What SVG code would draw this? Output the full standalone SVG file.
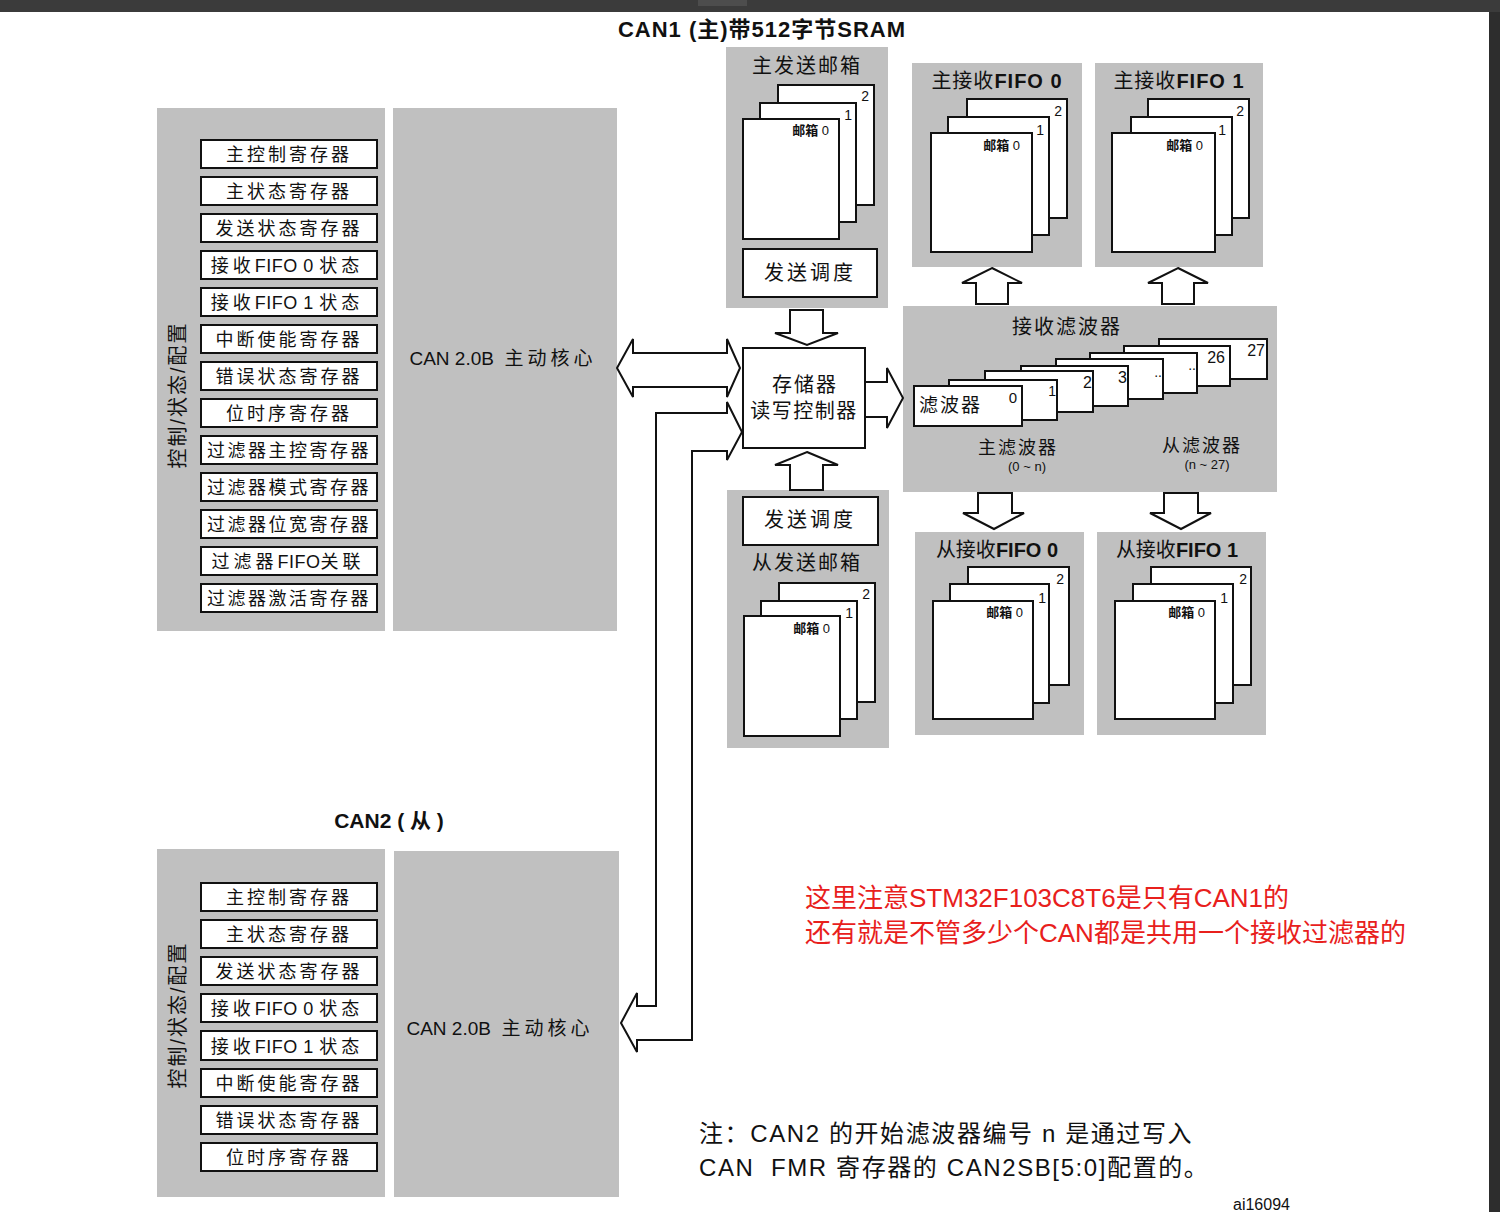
<svg xmlns="http://www.w3.org/2000/svg" width="1500" height="1212" viewBox="0 0 1500 1212">
<style>
  text { font-family: "Liberation Sans", "Noto Sans CJK SC", sans-serif; fill: #111; }
  .panel { fill: #c0c0c0; }
  .reg { fill: #fff; stroke: #111; stroke-width: 2; }
  .regt { font-size: 18px; letter-spacing: 3px; text-anchor: middle; }
  .sp { letter-spacing: 4px; }
  .lat { letter-spacing: 0.5px; }
  .page { fill: #fff; stroke: #111; stroke-width: 2; }
  .num { font-size: 14px; text-anchor: end; }
  .mb { font-size: 13px; font-weight: bold; text-anchor: end; }
  .ttl { font-size: 20px; letter-spacing: 1px; text-anchor: middle; }
  .box { fill: #fff; stroke: #111; stroke-width: 2; }
  .arr { fill: #fff; stroke: #111; stroke-width: 2; stroke-linejoin: miter; }
  .core { font-size: 19px; text-anchor: middle; }
  .vert { font-size: 20px; letter-spacing: 2px; text-anchor: middle; }
  .note { font-size: 24px; letter-spacing: 1.6px; }
</style>

<!-- window chrome -->
<rect x="0" y="0" width="1500" height="12" fill="#3b3b3b"/>
<rect x="698" y="0" width="49" height="6" fill="#4d4d4d"/>
<rect x="1489" y="12" width="11" height="1200" fill="#2d2d2d"/>

<text x="762" y="37" style="font-size:22px;font-weight:bold;letter-spacing:1px;text-anchor:middle">CAN1 (主)带512字节SRAM</text>
<text x="389" y="828" style="font-size:21px;font-weight:bold;text-anchor:middle" xml:space="preserve">CAN2 ( 从 )</text>

<!-- CAN1 registers -->
<g id="can1-regs">
  <rect class="panel" x="157" y="108" width="228" height="523"/>
  <text class="vert" transform="translate(185,395) rotate(-90)">控制/状态/配置</text>
  <rect class="reg" x="201" y="140" width="176" height="28"/><text class="regt" x="289" y="161">主控制寄存器</text>
  <rect class="reg" x="201" y="177" width="176" height="28"/><text class="regt" x="289" y="198">主状态寄存器</text>
  <rect class="reg" x="201" y="214" width="176" height="28"/><text class="regt" x="289" y="235">发送状态寄存器</text>
  <rect class="reg" x="201" y="251" width="176" height="28"/><text class="regt" x="287" y="272" xml:space="preserve"><tspan class="sp">接收</tspan><tspan class="lat">FIFO 0 </tspan><tspan class="sp">状态</tspan></text>
  <rect class="reg" x="201" y="288" width="176" height="28"/><text class="regt" x="287" y="309" xml:space="preserve"><tspan class="sp">接收</tspan><tspan class="lat">FIFO 1 </tspan><tspan class="sp">状态</tspan></text>
  <rect class="reg" x="201" y="325" width="176" height="28"/><text class="regt" x="289" y="346">中断使能寄存器</text>
  <rect class="reg" x="201" y="362" width="176" height="28"/><text class="regt" x="289" y="383">错误状态寄存器</text>
  <rect class="reg" x="201" y="399" width="176" height="28"/><text class="regt" x="289" y="420">位时序寄存器</text>
  <rect class="reg" x="201" y="436" width="176" height="28"/><text class="regt" x="289" y="457" style="letter-spacing:2.5px">过滤器主控寄存器</text>
  <rect class="reg" x="201" y="473" width="176" height="28"/><text class="regt" x="289" y="494" style="letter-spacing:2.5px">过滤器模式寄存器</text>
  <rect class="reg" x="201" y="510" width="176" height="28"/><text class="regt" x="289" y="531" style="letter-spacing:2.5px">过滤器位宽寄存器</text>
  <rect class="reg" x="201" y="547" width="176" height="28"/><text class="regt" x="288" y="568"><tspan class="sp">过滤器</tspan><tspan class="lat">FIFO</tspan><tspan class="sp">关联</tspan></text>
  <rect class="reg" x="201" y="584" width="176" height="28"/><text class="regt" x="289" y="605" style="letter-spacing:2.5px">过滤器激活寄存器</text>
</g>
<g id="can1-core">
  <rect class="panel" x="393" y="108" width="224" height="523"/>
  <text class="core" x="503" y="365" xml:space="preserve">CAN 2.0B  <tspan class="sp">主动核心</tspan></text>
</g>

<!-- CAN2 -->
<g id="can2-regs">
  <rect class="panel" x="157" y="849" width="228" height="348"/>
  <text class="vert" transform="translate(185,1015) rotate(-90)">控制/状态/配置</text>
  <rect class="reg" x="201" y="883" width="176" height="28"/><text class="regt" x="289" y="904">主控制寄存器</text>
  <rect class="reg" x="201" y="920" width="176" height="28"/><text class="regt" x="289" y="941">主状态寄存器</text>
  <rect class="reg" x="201" y="957" width="176" height="28"/><text class="regt" x="289" y="978">发送状态寄存器</text>
  <rect class="reg" x="201" y="994" width="176" height="28"/><text class="regt" x="287" y="1015" xml:space="preserve"><tspan class="sp">接收</tspan><tspan class="lat">FIFO 0 </tspan><tspan class="sp">状态</tspan></text>
  <rect class="reg" x="201" y="1031" width="176" height="29"/><text class="regt" x="287" y="1053" xml:space="preserve"><tspan class="sp">接收</tspan><tspan class="lat">FIFO 1 </tspan><tspan class="sp">状态</tspan></text>
  <rect class="reg" x="201" y="1069" width="176" height="28"/><text class="regt" x="289" y="1090">中断使能寄存器</text>
  <rect class="reg" x="201" y="1106" width="176" height="28"/><text class="regt" x="289" y="1127">错误状态寄存器</text>
  <rect class="reg" x="201" y="1143" width="176" height="28"/><text class="regt" x="289" y="1164">位时序寄存器</text>
</g>
<g id="can2-core">
  <rect class="panel" x="394" y="851" width="225" height="346"/>
  <text class="core" x="500" y="1035" xml:space="preserve">CAN 2.0B  <tspan class="sp">主动核心</tspan></text>
</g>

<!-- master TX mailbox -->
<g id="master-tx">
  <rect class="panel" x="726" y="47" width="162" height="261"/>
  <text class="ttl" x="807" y="73" style="letter-spacing:2px">主发送邮箱</text>
  <rect class="page" x="778" y="85" width="96" height="120"/>
  <text class="num" x="869" y="101">2</text>
  <rect class="page" x="760" y="103" width="96" height="119"/>
  <text class="num" x="852" y="120">1</text>
  <rect class="page" x="743" y="119" width="96" height="120"/>
  <text class="mb" x="829" y="135">邮箱 <tspan style="font-weight:normal">0</tspan></text>
  <rect class="box" x="743" y="249" width="134" height="48"/>
  <text class="ttl" x="810" y="280" style="letter-spacing:3px">发送调度</text>
</g>

<!-- master RX FIFO 0 -->
<g id="master-fifo0">
  <rect class="panel" x="912" y="63" width="170" height="204"/>
  <text class="ttl" x="997" y="88">主接收<tspan font-weight="bold">FIFO 0</tspan></text>
  <rect class="page" x="967" y="99" width="100" height="119"/>
  <text class="num" x="1062" y="116">2</text>
  <rect class="page" x="948" y="117" width="101" height="118"/>
  <text class="num" x="1044" y="135">1</text>
  <rect class="page" x="931" y="133" width="101" height="119"/>
  <text class="mb" x="1020" y="150">邮箱 <tspan style="font-weight:normal">0</tspan></text>
</g>

<!-- master RX FIFO 1 -->
<g id="master-fifo1">
  <rect class="panel" x="1095" y="63" width="168" height="204"/>
  <text class="ttl" x="1179" y="88">主接收<tspan font-weight="bold">FIFO 1</tspan></text>
  <rect class="page" x="1148" y="99" width="101" height="119"/>
  <text class="num" x="1244" y="116">2</text>
  <rect class="page" x="1131" y="117" width="101" height="118"/>
  <text class="num" x="1226" y="135">1</text>
  <rect class="page" x="1112" y="133" width="103" height="119"/>
  <text class="mb" x="1203" y="150">邮箱 <tspan style="font-weight:normal">0</tspan></text>
</g>

<!-- memory controller -->
<g id="mem-ctrl">
  <rect class="box" x="743" y="348" width="122" height="100"/>
  <text class="ttl" x="805" y="392" style="letter-spacing:2px">存储器</text>
  <text class="ttl" x="804" y="418" style="letter-spacing:1.5px">读写控制器</text>
</g>

<!-- receive filters -->
<g id="rx-filter">
  <rect class="panel" x="903" y="306" width="374" height="186"/>
  <text class="ttl" x="1067" y="334" style="letter-spacing:2px">接收滤波器</text>
  <rect class="page" x="1159" y="339" width="108" height="40"/>
  <text class="num" x="1265" y="356" style="font-size:16px">27</text>
  <rect class="page" x="1124" y="346" width="106" height="40"/>
  <text class="num" x="1225" y="363" style="font-size:16px">26</text>
  <rect class="page" x="1090" y="353" width="107" height="40"/>
  <text class="num" x="1196" y="370">..</text>
  <rect class="page" x="1056" y="359" width="107" height="40"/>
  <text class="num" x="1162" y="377">..</text>
  <rect class="page" x="1021" y="366" width="107" height="40"/>
  <text class="num" x="1127" y="383" style="font-size:16px">3</text>
  <rect class="page" x="985" y="371" width="108" height="41"/>
  <text class="num" x="1092" y="388" style="font-size:16px">2</text>
  <rect class="page" x="949" y="380" width="108" height="40"/>
  <text class="num" x="1056" y="396">1</text>
  <rect class="page" x="914" y="386" width="108" height="40"/>
  <text class="num" x="1017" y="403" style="font-size:15px">0</text>
  <text x="919" y="412" style="font-size:19px;letter-spacing:2px">滤波器</text>
  <text x="1018" y="454" style="font-size:18px;letter-spacing:2px;text-anchor:middle">主滤波器</text>
  <text x="1027" y="471" style="font-size:13px;text-anchor:middle">(0 ~ n)</text>
  <text x="1202" y="452" style="font-size:18px;letter-spacing:2px;text-anchor:middle">从滤波器</text>
  <text x="1207" y="469" style="font-size:13px;text-anchor:middle">(n ~ 27)</text>
</g>

<!-- slave TX mailbox -->
<g id="slave-tx">
  <rect class="panel" x="727" y="490" width="162" height="258"/>
  <rect class="box" x="743" y="497" width="135" height="48"/>
  <text class="ttl" x="810" y="527" style="letter-spacing:3px">发送调度</text>
  <text class="ttl" x="807" y="570" style="letter-spacing:2px">从发送邮箱</text>
  <rect class="page" x="779" y="583" width="96" height="119"/>
  <text class="num" x="870" y="599">2</text>
  <rect class="page" x="761" y="601" width="96" height="118"/>
  <text class="num" x="853" y="618">1</text>
  <rect class="page" x="744" y="616" width="96" height="120"/>
  <text class="mb" x="830" y="633">邮箱 <tspan style="font-weight:normal">0</tspan></text>
</g>

<!-- slave RX FIFO 0 -->
<g id="slave-fifo0">
  <rect class="panel" x="915" y="532" width="169" height="203"/>
  <text class="ttl" x="997" y="557" style="letter-spacing:0px">从接收<tspan font-weight="bold">FIFO 0</tspan></text>
  <rect class="page" x="968" y="567" width="101" height="118"/>
  <text class="num" x="1064" y="584">2</text>
  <rect class="page" x="950" y="584" width="99" height="119"/>
  <text class="num" x="1046" y="603">1</text>
  <rect class="page" x="933" y="601" width="100" height="118"/>
  <text class="mb" x="1023" y="617">邮箱 <tspan style="font-weight:normal">0</tspan></text>
</g>

<!-- slave RX FIFO 1 -->
<g id="slave-fifo1">
  <rect class="panel" x="1097" y="532" width="169" height="203"/>
  <text class="ttl" x="1177" y="557" style="letter-spacing:0px">从接收<tspan font-weight="bold">FIFO 1</tspan></text>
  <rect class="page" x="1151" y="567" width="100" height="118"/>
  <text class="num" x="1247" y="584">2</text>
  <rect class="page" x="1133" y="584" width="100" height="119"/>
  <text class="num" x="1228" y="603">1</text>
  <rect class="page" x="1115" y="601" width="100" height="118"/>
  <text class="mb" x="1205" y="617">邮箱 <tspan style="font-weight:normal">0</tspan></text>
</g>

<!-- connectors -->
<g id="connectors">
  <polygon class="arr" points="617,368 633,339 633,353 727,353 727,339 740,368 727,397 727,387 633,387 633,397"/>
  <polygon class="arr" points="621,1023 637,993 637,1006 656,1006 656,413 727,413 727,402 742,432 727,460 727,451 692,451 692,1040 637,1040 637,1052"/>
  <polygon class="arr" points="790,310 823,310 823,333 838,333 807,345 775,333 790,333"/>
  <polygon class="arr" points="807,452 838,465 823,465 823,490 790,490 790,465 775,465"/>
  <polygon class="arr" points="865,382 887,382 887,368 903,398 887,428 887,417 865,417"/>
  <polygon class="arr" points="992,268 1022,283 1008,283 1008,304 976,304 976,283 962,283"/>
  <polygon class="arr" points="1178,268 1208,283 1194,283 1194,304 1162,304 1162,283 1148,283"/>
  <polygon class="arr" points="978,493 1012,493 1012,513 1024,513 994,529 963,513 978,513"/>
  <polygon class="arr" points="1164,493 1198,493 1198,513 1211,513 1181,529 1150,513 1164,513"/>
</g>

<!-- annotations -->
<text x="805" y="907" style="font-size:26px;fill:#e8201c">这里注意STM32F103C8T6是只有CAN1的</text>
<text x="805" y="942" style="font-size:26px;fill:#e8201c">还有就是不管多少个CAN都是共用一个接收过滤器的</text>
<text class="note" x="699" y="1142">注：CAN2 的开始滤波器编号 n 是通过写入</text>
<text class="note" x="699" y="1176" xml:space="preserve">CAN  FMR 寄存器的 CAN2SB[5:0]配置的。</text>
<text x="1233" y="1210" style="font-size:16px">ai16094</text>
</svg>
